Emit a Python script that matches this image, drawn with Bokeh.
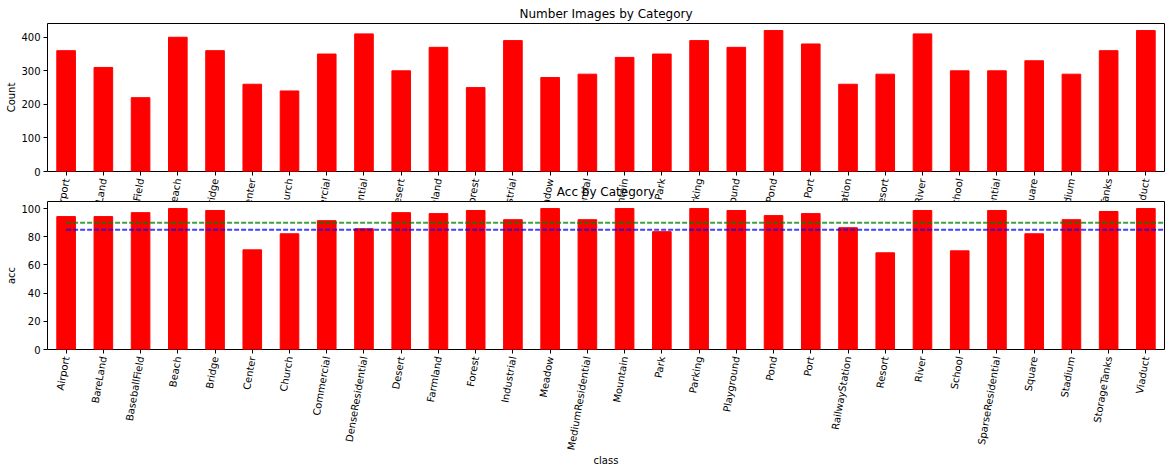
import math
from bokeh.plotting import figure
from bokeh.models import FactorRange, Range1d, FixedTicker, ColumnDataSource
from bokeh.transform import dodge
from bokeh.layouts import column
from bokeh.embed import file_html
from bokeh.resources import INLINE

categories = ["Airport", "BareLand", "BaseballField", "Beach", "Bridge", "Center",
              "Church", "Commercial", "DenseResidential", "Desert", "Farmland",
              "Forest", "Industrial", "Meadow", "MediumResidential", "Mountain",
              "Park", "Parking", "Playground", "Pond", "Port", "RailwayStation",
              "Resort", "River", "School", "SparseResidential", "Square",
              "Stadium", "StorageTanks", "Viaduct"]
counts = [360, 310, 220, 400, 360, 260, 240, 350, 410, 300, 370, 250, 390, 280,
          290, 340, 350, 390, 370, 420, 380, 260, 290, 410, 300, 300, 330, 290,
          360, 420]
acc = [94.3, 94.3, 97.1, 100.0, 98.6, 70.7, 82.1, 91.4, 85.7, 97.1, 96.4, 98.6,
       92.1, 100.0, 92.1, 100.0, 83.6, 100.0, 98.6, 95.0, 96.4, 86.4, 68.6, 98.6,
       70.0, 98.6, 82.1, 92.1, 97.9, 100.0]
count_ticks = [0, 100, 200, 300, 400]
acc_ticks = [0, 20, 40, 60, 80, 100]
threshold_high = 90
threshold_low = 85

FONT = "DejaVu Sans"
source = ColumnDataSource(dict(cls=categories, count=counts, acc=acc))


def style(p, ylabel, yticks):
    p.xgrid.visible = False
    p.ygrid.visible = False
    p.outline_line_color = "black"
    p.outline_line_width = 1
    p.background_fill_color = "white"
    p.title.text_font = FONT
    p.title.text_font_size = "12px"
    p.title.text_font_style = "normal"
    p.title.text_color = "black"
    p.title.align = "center"
    p.title.standoff = 6
    for ax in p.axis:
        ax.axis_line_color = None
        ax.major_tick_out = 4
        ax.major_tick_in = 0
        ax.major_tick_line_color = "black"
        ax.minor_tick_line_color = None
        ax.major_label_text_font = FONT
        ax.major_label_text_font_size = "10px"
        ax.major_label_text_color = "black"
        ax.major_label_standoff = 3
        ax.axis_label_text_font = FONT
        ax.axis_label_text_font_size = "10px"
        ax.axis_label_text_font_style = "normal"
        ax.axis_label_text_color = "black"
    p.yaxis.ticker = FixedTicker(ticks=yticks)
    p.yaxis.axis_label = ylabel
    p.yaxis.axis_label_standoff = 1
    p.xaxis.major_label_orientation = math.radians(80)


p1 = figure(x_range=FactorRange(factors=categories, range_padding=0),
            y_range=Range1d(0, 441), width=1166, height=291,
            min_border_left=47, min_border_right=2, min_border_top=23,
            min_border_bottom=120, title="Number Images by Category",
            output_backend="svg", toolbar_location=None)
p1.vbar(x="cls", top="count", width=0.5, source=source, color="#ff0000")
style(p1, "Count", count_ticks)

p2 = figure(x_range=FactorRange(factors=categories, range_padding=0),
            y_range=Range1d(0, 105), width=1166, height=300,
            min_border_left=47, min_border_right=2, min_border_top=30,
            min_border_bottom=122, title="Acc by Category",
            output_backend="svg", toolbar_location=None)
p2.border_fill_alpha = 0
p2.vbar(x="cls", top="acc", width=0.5, source=source, color="#ff0000")
lines = ColumnDataSource(dict(x0=[categories[0], categories[0]],
                              x1=[categories[-1], categories[-1]],
                              y=[threshold_high, threshold_low],
                              c=["#008000", "#0000ff"]))
p2.segment(x0="x0", x1=dodge("x1", 0.5, range=p2.x_range), y0="y", y1="y",
           color="c", line_width=2, line_alpha=0.75, line_dash="5 2", source=lines)
style(p2, "acc", acc_ticks)
p2.xaxis.axis_label = "class"
p2.xaxis.axis_label_standoff = 0
p2.margin = (-120, 0, -12, 0)

layout = column(p1, p2)
open("out.html", "w").write(file_html(layout, INLINE))
